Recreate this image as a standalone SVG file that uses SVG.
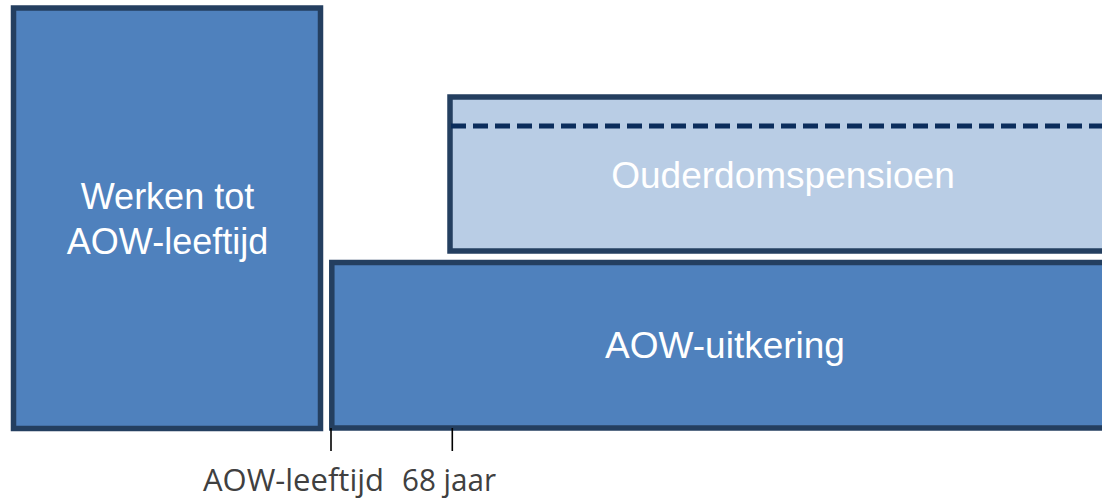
<svg xmlns="http://www.w3.org/2000/svg" width="1102" height="499" viewBox="0 0 1102 499">
<style>
.box{fill:#4F81BD;stroke:#243F60;stroke-width:5.5}
.light{fill:#B9CDE5;stroke:#243F60;stroke-width:5.5}
.t{font-family:"Liberation Sans",Arial,sans-serif;font-size:36px;fill:#FFFFFF;text-anchor:middle}
.t2{font-size:37px}
.lbl{font-family:"Open Sans","Liberation Sans",sans-serif;font-size:31px;fill:#404040}
.tick{stroke:#000;stroke-width:1.6}
</style>
<rect width="1102" height="499" fill="#FFFFFF"/>
<g id="werken">
<rect class="box" x="13.5" y="8" width="307" height="420.5"/>
<text class="t" x="167.5" y="208.5">Werken tot</text>
<text class="t" x="167.5" y="253.5">AOW-leeftijd</text>
</g>
<g id="ouderdomspensioen">
<rect class="light" x="450" y="97" width="680" height="154"/>
<line x1="451" y1="126" x2="1102" y2="126" stroke="#0B2D5C" stroke-width="5" stroke-dasharray="15 7"/>
<text class="t t2" x="783" y="187.5">Ouderdomspensioen</text>
</g>
<g id="aow-uitkering">
<rect class="box" x="331.8" y="262.5" width="800" height="165.5"/>
<text class="t t2" x="725" y="357.5">AOW-uitkering</text>
</g>
<g id="connectors">
<line class="tick" x1="331" y1="428" x2="331" y2="451"/>
<line class="tick" x1="452.3" y1="428" x2="452.3" y2="451"/>
</g>
<g id="labels">
<text class="lbl" x="203" y="490.5" textLength="181" lengthAdjust="spacingAndGlyphs">AOW-leeftijd</text>
<text class="lbl" x="402" y="490.5" textLength="94" lengthAdjust="spacingAndGlyphs">68 jaar</text>
</g>
</svg>
